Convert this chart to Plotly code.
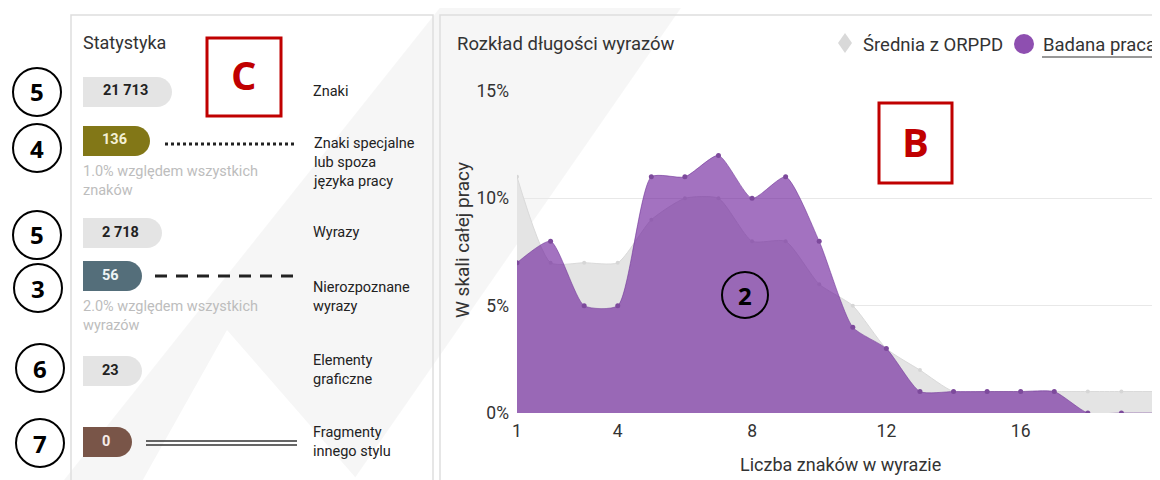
import plotly.graph_objects as go

# ---------------- data ----------------
word_len = [1, 2, 3, 4, 5, 6, 7, 8, 9, 10, 11, 12, 13, 14, 15, 16, 17, 18, 19, 20]
badana_praca = [7, 8, 5, 5, 11, 11, 12, 10, 11, 8, 4, 3, 1, 1, 1, 1, 1, 0, 0, 0]
srednia_orppd = [11, 7, 7, 7, 9, 10, 10, 8, 8, 6, 5, 3, 2, 1, 1, 1, 1, 1, 1, 1]
x_tick_vals = [1, 4, 8, 12, 16, 20]
x_tick_text = ["1", "4", "8", "12", "16", "≥20"]
y_tick_vals = [0, 5, 10, 15]
y_tick_text = ["0%", "5%", "10%", "15%"]

stat_values = ["21 713", "136", "2 718", "56", "23", "0"]
stat_labels = ["Znaki", "Znaki specjalne<br>lub spoza<br>języka pracy", "Wyrazy",
               "Nierozpoznane<br>wyrazy", "Elementy<br>graficzne", "Fragmenty<br>innego stylu"]
stat_notes = ["", "1.0% względem wszystkich<br>znaków", "", "2.0% względem wszystkich<br>wyrazów", "", ""]
stat_colors = ["#e4e4e4", "#827717", "#e4e4e4", "#546e7a", "#e4e4e4", "#795548"]
stat_text_colors = ["#222222", "#f4f0d4", "#222222", "#eef3f5", "#222222", "#f6ece8"]
marker_numbers = ["5", "4", "5", "3", "6", "7"]

# ---------------- layout helpers (screen pixels -> paper) ----------------
OFF = 8  # page body margin
W, H = 1160 - OFF, 480 - OFF
def X(p):
    return (p - OFF) / W
def Y(p):
    return 1 - (p - OFF) / H

FONT = "Roboto"
fig = go.Figure()

fig.add_trace(go.Scatter(
    x=word_len, y=srednia_orppd, name="Średnia z ORPPD", mode="lines+markers",
    line=dict(color="#dadada", width=1, shape="spline", smoothing=0.6),
    marker=dict(size=4, color="#d6d6d6"),
    fill="tozeroy", fillcolor="rgba(228,228,228,1)", hoverinfo="skip"))
fig.add_trace(go.Scatter(
    x=word_len, y=badana_praca, name="Badana praca", mode="lines+markers",
    line=dict(color="rgba(110,50,150,0.55)", width=1, shape="spline", smoothing=0.6),
    marker=dict(size=5, color="#7d4a9c"),
    fill="tozeroy", fillcolor="rgba(106,27,154,0.62)", hoverinfo="skip"))

shapes = []
annotations = []

def path_from(points):
    return "M " + " L ".join(f"{X(a):.5f},{Y(b):.5f}" for a, b in points) + " Z"

# watermark
shapes.append(dict(type="path", xref="paper", yref="paper", layer="below",
                   path=path_from([(450, -5), (690, -5), (350, 485), (60, 485)]),
                   fillcolor="rgba(0,0,0,0.035)", line=dict(width=0)))
shapes.append(dict(type="path", xref="paper", yref="paper", layer="below",
                   path=path_from([(227, 330), (362, 485), (140, 485)]),
                   fillcolor="white", line=dict(width=0)))

# panels
shapes.append(dict(type="rect", xref="paper", yref="paper", layer="below",
                   x0=X(71), x1=X(433), y0=Y(495), y1=Y(15),
                   line=dict(color="#dedede", width=1.5)))
shapes.append(dict(type="rect", xref="paper", yref="paper", layer="below",
                   x0=X(440), x1=X(1175), y0=Y(495), y1=Y(15),
                   line=dict(color="#dedede", width=1.5)))

# pills
pill_cy = [92, 141, 233, 276, 371, 442]
pill_right = [172, 150, 162, 142, 142, 132]
pill_left = 83
pill_h = 30
k = 0.5523
for i, val in enumerate(stat_values):
    cy = pill_cy[i]
    y0, y1 = cy - pill_h / 2, cy + pill_h / 2
    r = pill_h / 2
    x1 = pill_right[i]
    xc = x1 - r
    p = (f"M {X(pill_left)},{Y(y0)} L {X(xc)},{Y(y0)} "
         f"C {X(xc + k*r)},{Y(y0)} {X(x1)},{Y(cy - k*r)} {X(x1)},{Y(cy)} "
         f"C {X(x1)},{Y(cy + k*r)} {X(xc + k*r)},{Y(y1)} {X(xc)},{Y(y1)} "
         f"L {X(pill_left)},{Y(y1)} Z")
    shapes.append(dict(type="path", xref="paper", yref="paper", layer="above",
                       path=p, fillcolor=stat_colors[i], line=dict(width=0)))
    annotations.append(dict(xref="paper", yref="paper", x=X((pill_left + x1 - 4) / 2), y=Y(cy - 1),
                            text=f"<b>{val}</b>", showarrow=False, xanchor="center", yanchor="middle",
                            font=dict(family=FONT, size=14.5, color=stat_text_colors[i])))

label_cy = [92, 162, 232, 297, 370, 442]
for i, lab in enumerate(stat_labels):
    annotations.append(dict(xref="paper", yref="paper", x=X(311), y=Y(label_cy[i]),
                            text=lab, showarrow=False, xanchor="left", yanchor="middle", align="left",
                            font=dict(family=FONT, size=14.5, color="#222222")))
note_cy = {1: 181, 3: 316}
for i, note in enumerate(stat_notes):
    if note:
        annotations.append(dict(xref="paper", yref="paper", x=X(81), y=Y(note_cy[i]),
                                text=note, showarrow=False, xanchor="left", yanchor="middle", align="left",
                                font=dict(family=FONT, size=14.5, color="#bdbdbd")))

# connector lines
shapes.append(dict(type="line", xref="paper", yref="paper", x0=X(165), x1=X(297), y0=Y(144), y1=Y(144),
                   line=dict(color="#222", width=3, dash="dot")))
shapes.append(dict(type="line", xref="paper", yref="paper", x0=X(155), x1=X(297), y0=Y(276), y1=Y(276),
                   line=dict(color="#222", width=3, dash="12px,9px")))
for yy in (441, 445):
    shapes.append(dict(type="line", xref="paper", yref="paper", x0=X(146), x1=X(297), y0=Y(yy), y1=Y(yy),
                       line=dict(color="#333", width=1.5)))

# numbered circles
circle_pos = [(37, 92), (37, 148), (37, 235), (38, 288), (40, 368), (40, 443)]
for (cx, cy), num in zip(circle_pos, marker_numbers):
    r = 24
    shapes.append(dict(type="circle", xref="paper", yref="paper",
                       x0=X(cx - r), x1=X(cx + r), y0=Y(cy + r), y1=Y(cy - r),
                       line=dict(color="black", width=2), fillcolor="white"))
    annotations.append(dict(xref="paper", yref="paper", x=X(cx), y=Y(cy), text=f"<b>{num}</b>",
                            showarrow=False, xanchor="center", yanchor="middle",
                            font=dict(family="Open Sans", size=24, color="black")))
cx, cy, r = 745, 295, 23
shapes.append(dict(type="circle", xref="paper", yref="paper",
                   x0=X(cx - r), x1=X(cx + r), y0=Y(cy + r), y1=Y(cy - r),
                   line=dict(color="black", width=2)))
annotations.append(dict(xref="paper", yref="paper", x=X(cx), y=Y(cy), text="<b>2</b>",
                        showarrow=False, xanchor="center", yanchor="middle",
                        font=dict(family="Open Sans", size=24, color="black")))

# red boxes
for (x0, y0, x1, y1, letter) in [(207, 38, 281, 116, "C"), (879, 103, 952, 183, "B")]:
    shapes.append(dict(type="rect", xref="paper", yref="paper", x0=X(x0), x1=X(x1), y0=Y(y1), y1=Y(y0),
                       line=dict(color="#c00000", width=3)))
    annotations.append(dict(xref="paper", yref="paper", x=X((x0 + x1) / 2), y=Y((y0 + y1) / 2 - 2),
                            text=f"<b>{letter}</b>", showarrow=False, xanchor="center", yanchor="middle",
                            font=dict(family="Open Sans", size=40, color="#c00000")))

# titles
annotations.append(dict(xref="paper", yref="paper", x=X(81), y=Y(42), text="Statystyka", showarrow=False,
                        xanchor="left", yanchor="middle", font=dict(family=FONT, size=18, color="#333")))
annotations.append(dict(xref="paper", yref="paper", x=X(455), y=Y(44), text="Rozkład długości wyrazów",
                        showarrow=False, xanchor="left", yanchor="middle",
                        font=dict(family=FONT, size=18.5, color="#333")))
annotations.append(dict(xref="paper", yref="paper", x=X(462), y=Y(240), text="W skali całej pracy",
                        showarrow=False, xanchor="center", yanchor="middle", textangle=-90,
                        font=dict(family=FONT, size=19, color="#333")))
annotations.append(dict(xref="paper", yref="paper", x=X(840), y=Y(464), text="Liczba znaków w wyrazie",
                        showarrow=False, xanchor="center", yanchor="middle",
                        font=dict(family=FONT, size=18, color="#333")))

# custom legend
shapes.append(dict(type="path", xref="paper", yref="paper",
                   path=path_from([(845, 33), (852, 43), (845, 53), (838, 43)]),
                   fillcolor="#d9d9d9", line=dict(width=0)))
annotations.append(dict(xref="paper", yref="paper", x=X(861), y=Y(45), text="Średnia z ORPPD",
                        showarrow=False, xanchor="left", yanchor="middle",
                        font=dict(family=FONT, size=18.5, color="#333")))
shapes.append(dict(type="circle", xref="paper", yref="paper",
                   x0=X(1014), x1=X(1034), y0=Y(54), y1=Y(34),
                   fillcolor="#8e4fb0", line=dict(width=0)))
annotations.append(dict(xref="paper", yref="paper", x=X(1041), y=Y(45), text="Badana praca",
                        showarrow=False, xanchor="left", yanchor="middle",
                        font=dict(family=FONT, size=18.5, color="#333")))
shapes.append(dict(type="line", xref="paper", yref="paper", x0=X(1042), x1=X(1160), y0=Y(57), y1=Y(57),
                   line=dict(color="#333", width=1.2)))

fig.update_layout(
    width=W, height=H, margin=dict(l=0, r=0, t=0, b=0, pad=0, autoexpand=False),
    paper_bgcolor="white", plot_bgcolor="rgba(0,0,0,0)", showlegend=False,
    shapes=shapes, annotations=annotations,
    xaxis=dict(domain=[X(517), X(1155)], range=[1, 20], tickvals=x_tick_vals, ticktext=x_tick_text,
               showgrid=False, zeroline=False, showline=False, ticks="", ticklabelstandoff=5,
               automargin=False, tickfont=dict(family=FONT, size=17.5, color="#333")),
    yaxis=dict(domain=[Y(413), Y(91)], range=[0, 15], tickvals=y_tick_vals, ticktext=y_tick_text,
               showgrid=True, gridcolor="#e8e8e8", gridwidth=1, zeroline=False, showline=False,
               automargin=False, ticks="", ticklabelstandoff=7,
               tickfont=dict(family=FONT, size=17.5, color="#333")),
)

fig.write_html("out.html")
